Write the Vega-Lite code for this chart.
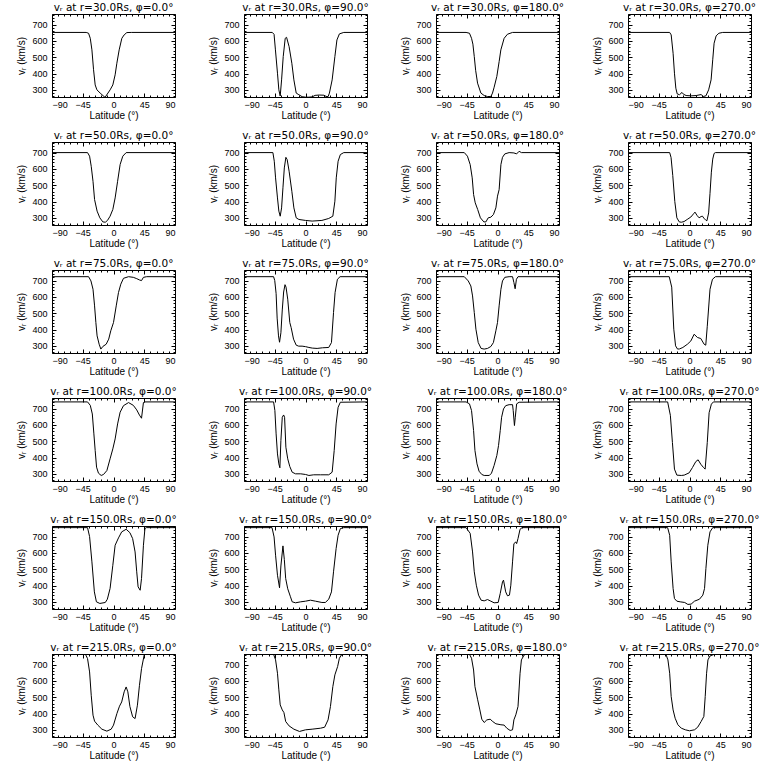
{
"$schema": "https://vega.github.io/schema/vega-lite/v6.json",
"background": "white",
"padding": {"left": 16, "top": 2, "right": 10, "bottom": 5},
"datasets": {
"panels": [
{"p":1,"t":"vᵣ at r=30.0Rs, φ=0.0°"},{"p":2,"t":"vᵣ at r=30.0Rs, φ=90.0°"},{"p":3,"t":"vᵣ at r=30.0Rs, φ=180.0°"},{"p":4,"t":"vᵣ at r=30.0Rs, φ=270.0°"},
{"p":5,"t":"vᵣ at r=50.0Rs, φ=0.0°"},{"p":6,"t":"vᵣ at r=50.0Rs, φ=90.0°"},{"p":7,"t":"vᵣ at r=50.0Rs, φ=180.0°"},{"p":8,"t":"vᵣ at r=50.0Rs, φ=270.0°"},
{"p":9,"t":"vᵣ at r=75.0Rs, φ=0.0°"},{"p":10,"t":"vᵣ at r=75.0Rs, φ=90.0°"},{"p":11,"t":"vᵣ at r=75.0Rs, φ=180.0°"},{"p":12,"t":"vᵣ at r=75.0Rs, φ=270.0°"},
{"p":13,"t":"vᵣ at r=100.0Rs, φ=0.0°"},{"p":14,"t":"vᵣ at r=100.0Rs, φ=90.0°"},{"p":15,"t":"vᵣ at r=100.0Rs, φ=180.0°"},{"p":16,"t":"vᵣ at r=100.0Rs, φ=270.0°"},
{"p":17,"t":"vᵣ at r=150.0Rs, φ=0.0°"},{"p":18,"t":"vᵣ at r=150.0Rs, φ=90.0°"},{"p":19,"t":"vᵣ at r=150.0Rs, φ=180.0°"},{"p":20,"t":"vᵣ at r=150.0Rs, φ=270.0°"},
{"p":21,"t":"vᵣ at r=215.0Rs, φ=0.0°"},{"p":22,"t":"vᵣ at r=215.0Rs, φ=90.0°"},{"p":23,"t":"vᵣ at r=215.0Rs, φ=180.0°"},{"p":24,"t":"vᵣ at r=215.0Rs, φ=270.0°"}
],
"curves": [
{"p":1,"x":-90,"v":652},{"p":1,"x":-40,"v":652},{"p":1,"x":-36.5,"v":647},{"p":1,"x":-34,"v":616},{"p":1,"x":-31.6,"v":545},{"p":1,"x":-29.2,"v":423},{"p":1,"x":-26.8,"v":330},{"p":1,"x":-24.3,"v":300},{"p":1,"x":-19.5,"v":280},{"p":1,"x":-13.6,"v":258},{"p":1,"x":-12.2,"v":255},{"p":1,"x":-4.9,"v":300},{"p":1,"x":-1,"v":330},{"p":1,"x":2.4,"v":392},{"p":1,"x":4.9,"v":463},{"p":1,"x":8.3,"v":545},{"p":1,"x":12.2,"v":616},{"p":1,"x":15.6,"v":637},{"p":1,"x":19.5,"v":651},{"p":1,"x":26,"v":652},{"p":1,"x":90,"v":652},
{"p":2,"x":-90,"v":652},{"p":2,"x":-48.6,"v":652},{"p":2,"x":-46,"v":640},{"p":2,"x":-44,"v":545},{"p":2,"x":-41,"v":402},{"p":2,"x":-39,"v":300},{"p":2,"x":-37,"v":262},{"p":2,"x":-35,"v":361},{"p":2,"x":-32.6,"v":504},{"p":2,"x":-29.7,"v":616},{"p":2,"x":-27.7,"v":622},{"p":2,"x":-24,"v":565},{"p":2,"x":-20,"v":463},{"p":2,"x":-17,"v":361},{"p":2,"x":-13.6,"v":280},{"p":2,"x":-9.7,"v":270},{"p":2,"x":-5,"v":258},{"p":2,"x":0,"v":255},{"p":2,"x":5,"v":255},{"p":2,"x":10,"v":257},{"p":2,"x":14,"v":266},{"p":2,"x":20,"v":268},{"p":2,"x":27,"v":267},{"p":2,"x":30,"v":260},{"p":2,"x":33,"v":258},{"p":2,"x":35,"v":280},{"p":2,"x":39,"v":361},{"p":2,"x":43,"v":504},{"p":2,"x":46,"v":606},{"p":2,"x":49.6,"v":643},{"p":2,"x":56,"v":652},{"p":2,"x":90,"v":652},
{"p":3,"x":-90,"v":652},{"p":3,"x":-46,"v":652},{"p":3,"x":-41,"v":647},{"p":3,"x":-38,"v":616},{"p":3,"x":-36,"v":580},{"p":3,"x":-34,"v":504},{"p":3,"x":-32,"v":420},{"p":3,"x":-29.2,"v":341},{"p":3,"x":-24.3,"v":280},{"p":3,"x":-19.5,"v":265},{"p":3,"x":-14.6,"v":259},{"p":3,"x":-9.7,"v":259},{"p":3,"x":-7.3,"v":280},{"p":3,"x":-4.9,"v":316},{"p":3,"x":-1,"v":382},{"p":3,"x":2.4,"v":473},{"p":3,"x":4.9,"v":545},{"p":3,"x":9.7,"v":616},{"p":3,"x":14.6,"v":641},{"p":3,"x":22,"v":652},{"p":3,"x":90,"v":652},
{"p":4,"x":-90,"v":652},{"p":4,"x":-29,"v":652},{"p":4,"x":-26.8,"v":637},{"p":4,"x":-24,"v":524},{"p":4,"x":-22,"v":402},{"p":4,"x":-20,"v":310},{"p":4,"x":-18,"v":275},{"p":4,"x":-14.6,"v":270},{"p":4,"x":-11,"v":284},{"p":4,"x":-8.8,"v":273},{"p":4,"x":-5,"v":265},{"p":4,"x":2.4,"v":263},{"p":4,"x":9.7,"v":265},{"p":4,"x":17,"v":271},{"p":4,"x":20,"v":259},{"p":4,"x":24,"v":263},{"p":4,"x":28,"v":300},{"p":4,"x":31.6,"v":361},{"p":4,"x":34,"v":484},{"p":4,"x":36,"v":586},{"p":4,"x":39,"v":631},{"p":4,"x":43,"v":647},{"p":4,"x":48.6,"v":652},{"p":4,"x":90,"v":652},
{"p":5,"x":-90,"v":700},{"p":5,"x":-38,"v":700},{"p":5,"x":-35,"v":678},{"p":5,"x":-32.6,"v":616},{"p":5,"x":-30,"v":524},{"p":5,"x":-27.7,"v":412},{"p":5,"x":-24,"v":341},{"p":5,"x":-20,"v":300},{"p":5,"x":-15.6,"v":275},{"p":5,"x":-12,"v":273},{"p":5,"x":-8.8,"v":284},{"p":5,"x":-5,"v":310},{"p":5,"x":-1,"v":351},{"p":5,"x":2.4,"v":422},{"p":5,"x":6,"v":524},{"p":5,"x":9.7,"v":627},{"p":5,"x":13.6,"v":678},{"p":5,"x":18.5,"v":700},{"p":5,"x":90,"v":700},
{"p":6,"x":-90,"v":700},{"p":6,"x":-47.7,"v":700},{"p":6,"x":-45.7,"v":647},{"p":6,"x":-43.8,"v":545},{"p":6,"x":-41,"v":422},{"p":6,"x":-39,"v":341},{"p":6,"x":-37,"v":310},{"p":6,"x":-35,"v":361},{"p":6,"x":-33,"v":484},{"p":6,"x":-31,"v":606},{"p":6,"x":-28.7,"v":671},{"p":6,"x":-26.8,"v":657},{"p":6,"x":-24,"v":586},{"p":6,"x":-20,"v":463},{"p":6,"x":-17,"v":361},{"p":6,"x":-13.6,"v":300},{"p":6,"x":-9.7,"v":290},{"p":6,"x":0,"v":284},{"p":6,"x":9.7,"v":280},{"p":6,"x":24,"v":284},{"p":6,"x":34,"v":296},{"p":6,"x":40,"v":310},{"p":6,"x":43,"v":402},{"p":6,"x":45,"v":545},{"p":6,"x":47.7,"v":647},{"p":6,"x":51,"v":688},{"p":6,"x":56,"v":700},{"p":6,"x":90,"v":700},
{"p":7,"x":-90,"v":700},{"p":7,"x":-48.6,"v":700},{"p":7,"x":-44,"v":678},{"p":7,"x":-40,"v":627},{"p":7,"x":-37,"v":545},{"p":7,"x":-35,"v":443},{"p":7,"x":-32.6,"v":392},{"p":7,"x":-29,"v":351},{"p":7,"x":-25,"v":300},{"p":7,"x":-20,"v":275},{"p":7,"x":-17,"v":275},{"p":7,"x":-13.6,"v":300},{"p":7,"x":-9.7,"v":304},{"p":7,"x":-6,"v":320},{"p":7,"x":-2.4,"v":361},{"p":7,"x":0,"v":433},{"p":7,"x":2.4,"v":473},{"p":7,"x":5,"v":627},{"p":7,"x":7.3,"v":671},{"p":7,"x":10.7,"v":692},{"p":7,"x":17,"v":700},{"p":7,"x":24,"v":698},{"p":7,"x":28,"v":692},{"p":7,"x":31.6,"v":708},{"p":7,"x":35,"v":700},{"p":7,"x":90,"v":700},
{"p":8,"x":-90,"v":700},{"p":8,"x":-29,"v":700},{"p":8,"x":-27,"v":670},{"p":8,"x":-24.5,"v":560},{"p":8,"x":-21.5,"v":400},{"p":8,"x":-18.5,"v":300},{"p":8,"x":-15,"v":275},{"p":8,"x":-12,"v":273},{"p":8,"x":-8,"v":277},{"p":8,"x":-3.4,"v":290},{"p":8,"x":2,"v":305},{"p":8,"x":6,"v":325},{"p":8,"x":8,"v":335},{"p":8,"x":11,"v":315},{"p":8,"x":14,"v":300},{"p":8,"x":17,"v":308},{"p":8,"x":19,"v":310},{"p":8,"x":21,"v":298},{"p":8,"x":24,"v":285},{"p":8,"x":25.5,"v":282},{"p":8,"x":28,"v":330},{"p":8,"x":30,"v":450},{"p":8,"x":32,"v":580},{"p":8,"x":34,"v":660},{"p":8,"x":36,"v":695},{"p":8,"x":38,"v":700},{"p":8,"x":90,"v":700},
{"p":9,"x":-90,"v":724},{"p":9,"x":-36.5,"v":724},{"p":9,"x":-33,"v":698},{"p":9,"x":-30,"v":647},{"p":9,"x":-27.7,"v":545},{"p":9,"x":-25.8,"v":443},{"p":9,"x":-24,"v":361},{"p":9,"x":-21,"v":310},{"p":9,"x":-18.5,"v":280},{"p":9,"x":-15.6,"v":296},{"p":9,"x":-10.7,"v":310},{"p":9,"x":-7,"v":341},{"p":9,"x":-4,"v":392},{"p":9,"x":0,"v":443},{"p":9,"x":4,"v":545},{"p":9,"x":7.3,"v":627},{"p":9,"x":10.7,"v":678},{"p":9,"x":14.6,"v":714},{"p":9,"x":22,"v":724},{"p":9,"x":29,"v":720},{"p":9,"x":34,"v":712},{"p":9,"x":38,"v":704},{"p":9,"x":41,"v":700},{"p":9,"x":43.8,"v":720},{"p":9,"x":48.6,"v":724},{"p":9,"x":90,"v":724},
{"p":10,"x":-90,"v":724},{"p":10,"x":-46.7,"v":724},{"p":10,"x":-45,"v":700},{"p":10,"x":-43,"v":620},{"p":10,"x":-41.5,"v":470},{"p":10,"x":-39.5,"v":361},{"p":10,"x":-38,"v":322},{"p":10,"x":-36,"v":380},{"p":10,"x":-34,"v":520},{"p":10,"x":-32,"v":630},{"p":10,"x":-30,"v":675},{"p":10,"x":-28.5,"v":660},{"p":10,"x":-26,"v":586},{"p":10,"x":-23,"v":443},{"p":10,"x":-21,"v":412},{"p":10,"x":-17.5,"v":341},{"p":10,"x":-13.6,"v":304},{"p":10,"x":-10,"v":298},{"p":10,"x":-5,"v":298},{"p":10,"x":0,"v":295},{"p":10,"x":5,"v":290},{"p":10,"x":10,"v":286},{"p":10,"x":17,"v":284},{"p":10,"x":25,"v":288},{"p":10,"x":34,"v":290},{"p":10,"x":38,"v":320},{"p":10,"x":41,"v":504},{"p":10,"x":43.3,"v":627},{"p":10,"x":46.7,"v":708},{"p":10,"x":50.6,"v":724},{"p":10,"x":90,"v":724},
{"p":11,"x":-90,"v":724},{"p":11,"x":-48.6,"v":724},{"p":11,"x":-42.8,"v":698},{"p":11,"x":-39,"v":667},{"p":11,"x":-36.5,"v":606},{"p":11,"x":-34,"v":504},{"p":11,"x":-31.6,"v":402},{"p":11,"x":-28.2,"v":320},{"p":11,"x":-24,"v":284},{"p":11,"x":-19.5,"v":280},{"p":11,"x":-14.6,"v":284},{"p":11,"x":-9.7,"v":296},{"p":11,"x":-6,"v":320},{"p":11,"x":-2.4,"v":392},{"p":11,"x":0,"v":443},{"p":11,"x":2.4,"v":545},{"p":11,"x":5,"v":647},{"p":11,"x":7.3,"v":698},{"p":11,"x":10.7,"v":720},{"p":11,"x":17,"v":724},{"p":11,"x":22,"v":724},{"p":11,"x":24,"v":688},{"p":11,"x":25.8,"v":650},{"p":11,"x":27.7,"v":708},{"p":11,"x":30,"v":724},{"p":11,"x":90,"v":724},
{"p":12,"x":-90,"v":724},{"p":12,"x":-29.7,"v":724},{"p":12,"x":-26,"v":660},{"p":12,"x":-23,"v":402},{"p":12,"x":-20.4,"v":300},{"p":12,"x":-17.5,"v":280},{"p":12,"x":-14.6,"v":281},{"p":12,"x":-9.7,"v":290},{"p":12,"x":-3,"v":310},{"p":12,"x":2,"v":330},{"p":12,"x":6.8,"v":371},{"p":12,"x":11.7,"v":351},{"p":12,"x":16.5,"v":345},{"p":12,"x":21.4,"v":310},{"p":12,"x":23.8,"v":304},{"p":12,"x":26,"v":420},{"p":12,"x":30,"v":647},{"p":12,"x":33.6,"v":708},{"p":12,"x":38,"v":724},{"p":12,"x":90,"v":724},
{"p":13,"x":-90,"v":741},{"p":13,"x":-38,"v":741},{"p":13,"x":-34,"v":720},{"p":13,"x":-31,"v":667},{"p":13,"x":-28.7,"v":545},{"p":13,"x":-26.8,"v":443},{"p":13,"x":-24.8,"v":341},{"p":13,"x":-22,"v":304},{"p":13,"x":-18,"v":290},{"p":13,"x":-14.6,"v":296},{"p":13,"x":-9.7,"v":320},{"p":13,"x":-5,"v":392},{"p":13,"x":-1,"v":453},{"p":13,"x":2.4,"v":514},{"p":13,"x":6,"v":606},{"p":13,"x":9.7,"v":678},{"p":13,"x":14.6,"v":718},{"p":13,"x":22,"v":737},{"p":13,"x":29,"v":720},{"p":13,"x":34,"v":692},{"p":13,"x":38,"v":660},{"p":13,"x":41,"v":641},{"p":13,"x":43.8,"v":737},{"p":13,"x":46,"v":741},{"p":13,"x":90,"v":741},
{"p":14,"x":-90,"v":741},{"p":14,"x":-46.7,"v":741},{"p":14,"x":-44.8,"v":688},{"p":14,"x":-43,"v":545},{"p":14,"x":-41,"v":422},{"p":14,"x":-39,"v":361},{"p":14,"x":-37.5,"v":337},{"p":14,"x":-36,"v":504},{"p":14,"x":-34,"v":647},{"p":14,"x":-32,"v":661},{"p":14,"x":-30.6,"v":647},{"p":14,"x":-28.7,"v":463},{"p":14,"x":-26,"v":392},{"p":14,"x":-23,"v":345},{"p":14,"x":-19.5,"v":310},{"p":14,"x":-14.6,"v":300},{"p":14,"x":-7,"v":300},{"p":14,"x":0,"v":296},{"p":14,"x":5,"v":290},{"p":14,"x":12,"v":294},{"p":14,"x":22,"v":294},{"p":14,"x":34,"v":294},{"p":14,"x":39,"v":310},{"p":14,"x":42,"v":443},{"p":14,"x":44.8,"v":606},{"p":14,"x":47.7,"v":708},{"p":14,"x":51,"v":739},{"p":14,"x":90,"v":741},
{"p":15,"x":-90,"v":741},{"p":15,"x":-46,"v":741},{"p":15,"x":-41,"v":729},{"p":15,"x":-38,"v":688},{"p":15,"x":-35,"v":565},{"p":15,"x":-33,"v":443},{"p":15,"x":-30,"v":361},{"p":15,"x":-27,"v":316},{"p":15,"x":-23,"v":296},{"p":15,"x":-19.5,"v":290},{"p":15,"x":-12,"v":290},{"p":15,"x":-8.8,"v":304},{"p":15,"x":-5,"v":351},{"p":15,"x":-1,"v":412},{"p":15,"x":1.5,"v":473},{"p":15,"x":4,"v":565},{"p":15,"x":6,"v":647},{"p":15,"x":8.8,"v":698},{"p":15,"x":12,"v":718},{"p":15,"x":17,"v":724},{"p":15,"x":22,"v":724},{"p":15,"x":23,"v":688},{"p":15,"x":24.8,"v":596},{"p":15,"x":26,"v":647},{"p":15,"x":28,"v":729},{"p":15,"x":31.6,"v":739},{"p":15,"x":90,"v":741},
{"p":16,"x":-90,"v":741},{"p":16,"x":-32,"v":741},{"p":16,"x":-28,"v":659},{"p":16,"x":-25,"v":492},{"p":16,"x":-22,"v":329},{"p":16,"x":-18.5,"v":292},{"p":16,"x":-12,"v":290},{"p":16,"x":-7.8,"v":292},{"p":16,"x":-0.5,"v":306},{"p":16,"x":4.4,"v":339},{"p":16,"x":9.2,"v":375},{"p":16,"x":12.6,"v":386},{"p":16,"x":16.5,"v":359},{"p":16,"x":20.4,"v":339},{"p":16,"x":22.9,"v":329},{"p":16,"x":26,"v":492},{"p":16,"x":28.7,"v":675},{"p":16,"x":32,"v":727},{"p":16,"x":35,"v":741},{"p":16,"x":90,"v":741},
{"p":17,"x":-90,"v":755},{"p":17,"x":-38,"v":755},{"p":17,"x":-35,"v":700},{"p":17,"x":-31.6,"v":545},{"p":17,"x":-28,"v":361},{"p":17,"x":-25,"v":300},{"p":17,"x":-20,"v":290},{"p":17,"x":-12,"v":296},{"p":17,"x":-9,"v":316},{"p":17,"x":-5,"v":382},{"p":17,"x":-1,"v":524},{"p":17,"x":2.4,"v":647},{"p":17,"x":7.3,"v":692},{"p":17,"x":12,"v":729},{"p":17,"x":18.5,"v":745},{"p":17,"x":24,"v":724},{"p":17,"x":28,"v":688},{"p":17,"x":31.6,"v":606},{"p":17,"x":34,"v":484},{"p":17,"x":36,"v":392},{"p":17,"x":39,"v":371},{"p":17,"x":41,"v":443},{"p":17,"x":43.8,"v":647},{"p":17,"x":46,"v":749},{"p":17,"x":48,"v":755},{"p":17,"x":90,"v":755},
{"p":18,"x":-90,"v":755},{"p":18,"x":-49,"v":755},{"p":18,"x":-46,"v":698},{"p":18,"x":-43.8,"v":586},{"p":18,"x":-41,"v":463},{"p":18,"x":-38,"v":386},{"p":18,"x":-36,"v":520},{"p":18,"x":-33,"v":643},{"p":18,"x":-31,"v":560},{"p":18,"x":-29,"v":443},{"p":18,"x":-26,"v":380},{"p":18,"x":-22,"v":331},{"p":18,"x":-19.5,"v":300},{"p":18,"x":-14.6,"v":294},{"p":18,"x":-7,"v":300},{"p":18,"x":0,"v":304},{"p":18,"x":7.3,"v":310},{"p":18,"x":14.6,"v":304},{"p":18,"x":24,"v":296},{"p":18,"x":29,"v":296},{"p":18,"x":34,"v":316},{"p":18,"x":38,"v":361},{"p":18,"x":41,"v":484},{"p":18,"x":44.8,"v":627},{"p":18,"x":47.7,"v":708},{"p":18,"x":51,"v":749},{"p":18,"x":56,"v":755},{"p":18,"x":90,"v":755},
{"p":19,"x":-90,"v":755},{"p":19,"x":-46,"v":755},{"p":19,"x":-40,"v":720},{"p":19,"x":-36.5,"v":606},{"p":19,"x":-34,"v":484},{"p":19,"x":-31,"v":402},{"p":19,"x":-27.7,"v":341},{"p":19,"x":-24,"v":310},{"p":19,"x":-19.5,"v":306},{"p":19,"x":-14.6,"v":314},{"p":19,"x":-9.7,"v":304},{"p":19,"x":-5,"v":294},{"p":19,"x":1,"v":296},{"p":19,"x":4,"v":351},{"p":19,"x":7.3,"v":422},{"p":19,"x":8.8,"v":433},{"p":19,"x":12,"v":361},{"p":19,"x":14.6,"v":337},{"p":19,"x":17.5,"v":341},{"p":19,"x":19.5,"v":402},{"p":19,"x":22,"v":545},{"p":19,"x":24,"v":657},{"p":19,"x":26.8,"v":667},{"p":19,"x":28,"v":657},{"p":19,"x":30,"v":688},{"p":19,"x":33,"v":745},{"p":19,"x":36,"v":755},{"p":19,"x":90,"v":755},
{"p":20,"x":-90,"v":755},{"p":20,"x":-32,"v":755},{"p":20,"x":-29,"v":708},{"p":20,"x":-26.8,"v":545},{"p":20,"x":-24,"v":382},{"p":20,"x":-22,"v":320},{"p":20,"x":-18.5,"v":304},{"p":20,"x":-13.6,"v":300},{"p":20,"x":-7,"v":296},{"p":20,"x":-2.4,"v":284},{"p":20,"x":2.4,"v":286},{"p":20,"x":7.3,"v":304},{"p":20,"x":14.6,"v":316},{"p":20,"x":19.5,"v":341},{"p":20,"x":22,"v":382},{"p":20,"x":24,"v":504},{"p":20,"x":26.8,"v":647},{"p":20,"x":30,"v":729},{"p":20,"x":34,"v":755},{"p":20,"x":90,"v":755},
{"p":21,"x":-90,"v":763},{"p":21,"x":-41,"v":763},{"p":21,"x":-38,"v":737},{"p":21,"x":-35,"v":655},{"p":21,"x":-32.6,"v":512},{"p":21,"x":-30,"v":390},{"p":21,"x":-27.7,"v":353},{"p":21,"x":-23,"v":329},{"p":21,"x":-17,"v":304},{"p":21,"x":-9.7,"v":292},{"p":21,"x":-3.4,"v":304},{"p":21,"x":0,"v":329},{"p":21,"x":5,"v":400},{"p":21,"x":8.8,"v":445},{"p":21,"x":12,"v":471},{"p":21,"x":15.6,"v":533},{"p":21,"x":18.5,"v":563},{"p":21,"x":21,"v":533},{"p":21,"x":24,"v":443},{"p":21,"x":28,"v":380},{"p":21,"x":31.6,"v":369},{"p":21,"x":35,"v":451},{"p":21,"x":38,"v":573},{"p":21,"x":41,"v":675},{"p":21,"x":44.8,"v":757},{"p":21,"x":46,"v":763},{"p":21,"x":90,"v":763},
{"p":22,"x":-90,"v":763},{"p":22,"x":-46.7,"v":763},{"p":22,"x":-43.8,"v":729},{"p":22,"x":-41,"v":647},{"p":22,"x":-39,"v":545},{"p":22,"x":-37,"v":453},{"p":22,"x":-34,"v":422},{"p":22,"x":-31.6,"v":406},{"p":22,"x":-29,"v":351},{"p":22,"x":-24,"v":324},{"p":22,"x":-17,"v":304},{"p":22,"x":-8.8,"v":290},{"p":22,"x":0,"v":300},{"p":22,"x":9.7,"v":304},{"p":22,"x":22,"v":310},{"p":22,"x":28,"v":316},{"p":22,"x":33,"v":361},{"p":22,"x":36.5,"v":443},{"p":22,"x":40,"v":565},{"p":22,"x":43,"v":637},{"p":22,"x":47,"v":688},{"p":22,"x":49.6,"v":739},{"p":22,"x":52.5,"v":759},{"p":22,"x":55,"v":763},{"p":22,"x":90,"v":763},
{"p":23,"x":-90,"v":763},{"p":23,"x":-41,"v":763},{"p":23,"x":-38,"v":739},{"p":23,"x":-35,"v":667},{"p":23,"x":-33,"v":565},{"p":23,"x":-29,"v":484},{"p":23,"x":-25.8,"v":422},{"p":23,"x":-23,"v":365},{"p":23,"x":-19.5,"v":345},{"p":23,"x":-15.6,"v":361},{"p":23,"x":-10.7,"v":365},{"p":23,"x":-7,"v":351},{"p":23,"x":-2.4,"v":337},{"p":23,"x":5,"v":331},{"p":23,"x":9.7,"v":329},{"p":23,"x":13.6,"v":310},{"p":23,"x":18.5,"v":296},{"p":23,"x":22,"v":300},{"p":23,"x":24,"v":361},{"p":23,"x":26.8,"v":392},{"p":23,"x":30,"v":443},{"p":23,"x":33,"v":647},{"p":23,"x":35,"v":729},{"p":23,"x":39,"v":759},{"p":23,"x":41,"v":763},{"p":23,"x":90,"v":763},
{"p":24,"x":-90,"v":763},{"p":24,"x":-34.5,"v":763},{"p":24,"x":-31.6,"v":729},{"p":24,"x":-29,"v":647},{"p":24,"x":-26.8,"v":504},{"p":24,"x":-24,"v":422},{"p":24,"x":-21,"v":371},{"p":24,"x":-17,"v":331},{"p":24,"x":-12,"v":310},{"p":24,"x":-6,"v":300},{"p":24,"x":0,"v":294},{"p":24,"x":7.3,"v":300},{"p":24,"x":12,"v":316},{"p":24,"x":17,"v":351},{"p":24,"x":21,"v":382},{"p":24,"x":23,"v":504},{"p":24,"x":25,"v":647},{"p":24,"x":27,"v":729},{"p":24,"x":30,"v":753},{"p":24,"x":34,"v":759},{"p":24,"x":36,"v":763},{"p":24,"x":90,"v":763}
]
},
"data": {"name": "curves"},
"transform": [{"lookup": "p", "from": {"data": {"name": "panels"}, "key": "p", "fields": ["t"]}}],
"facet": {"field": "t", "type": "nominal", "sort": {"field": "p", "op": "min"}, "title": null,
  "header": {"labelOrient": "top", "labelFont": "DejaVu Sans", "labelFontSize": 10.5, "labelColor": "black", "labelPadding": 0}},
"columns": 4,
"spacing": {"row": 45, "column": 69},
"bounds": "flush",
"spec": {
  "width": 123,
  "height": 83,
  "layer": [
    {"mark": {"type": "line", "color": "black", "strokeWidth": 1, "clip": true},
     "encoding": {
       "x": {"field": "x", "type": "quantitative", "scale": {"domain": [-90, 90], "nice": false, "zero": false},
             "axis": {"orient": "bottom", "values": [-90, -45, 0, 45, 90], "title": "Latitude (°)", "tickSize": -4, "labelPadding": 7, "titlePadding": 1, "domain": false}},
       "y": {"field": "v", "type": "quantitative", "scale": {"domain": [256, 765], "nice": false, "zero": false},
             "axis": {"orient": "left", "values": [300, 400, 500, 600, 700], "title": "vᵣ (km/s)", "tickSize": -4, "labelPadding": 9, "titlePadding": 5, "domain": false}}
     }},
    {"mark": {"type": "line", "opacity": 0},
     "encoding": {
       "x": {"field": "x", "type": "quantitative", "scale": {"domain": [-90, 90], "nice": false, "zero": false},
             "axis": {"orient": "top", "values": [-90, -45, 0, 45, 90], "title": null, "labels": false, "tickSize": -4, "domain": false}},
       "y": {"field": "v", "type": "quantitative", "scale": {"domain": [256, 765], "nice": false, "zero": false},
             "axis": {"orient": "right", "values": [300, 400, 500, 600, 700], "title": null, "labels": false, "tickSize": -4, "domain": false}}
     }},
    {"mark": {"type": "line", "opacity": 0},
     "encoding": {
       "x": {"field": "x", "type": "quantitative", "scale": {"domain": [-90, 90], "nice": false, "zero": false},
             "axis": {"orient": "bottom", "values": [-81,-72,-63,-54,-36,-27,-18,-9,9,18,27,36,54,63,72,81], "title": null, "labels": false, "tickSize": -2, "domain": false}},
       "y": {"field": "v", "type": "quantitative", "scale": {"domain": [256, 765], "nice": false, "zero": false},
             "axis": {"orient": "left", "values": [260,280,320,340,360,380,420,440,460,480,520,540,560,580,620,640,660,680,720,740,760], "title": null, "labels": false, "tickSize": -2, "domain": false}}
     }},
    {"mark": {"type": "line", "opacity": 0},
     "encoding": {
       "x": {"field": "x", "type": "quantitative", "scale": {"domain": [-90, 90], "nice": false, "zero": false},
             "axis": {"orient": "top", "values": [-81,-72,-63,-54,-36,-27,-18,-9,9,18,27,36,54,63,72,81], "title": null, "labels": false, "tickSize": -2, "domain": false}},
       "y": {"field": "v", "type": "quantitative", "scale": {"domain": [256, 765], "nice": false, "zero": false},
             "axis": {"orient": "right", "values": [260,280,320,340,360,380,420,440,460,480,520,540,560,580,620,640,660,680,720,740,760], "title": null, "labels": false, "tickSize": -2, "domain": false}}
     }}
  ],
  "resolve": {"axis": {"x": "independent", "y": "independent"}}
},
"resolve": {"axis": {"x": "independent", "y": "independent"}},
"config": {
  "view": {"stroke": "black", "strokeWidth": 1},
  "axis": {"grid": false, "tickColor": "black", "labelColor": "black", "titleColor": "black", "labelFont": "Liberation Sans", "titleFont": "Liberation Sans", "labelFontSize": 9, "titleFontSize": 10, "titleFontWeight": "normal", "tickWidth": 1}
}
}
